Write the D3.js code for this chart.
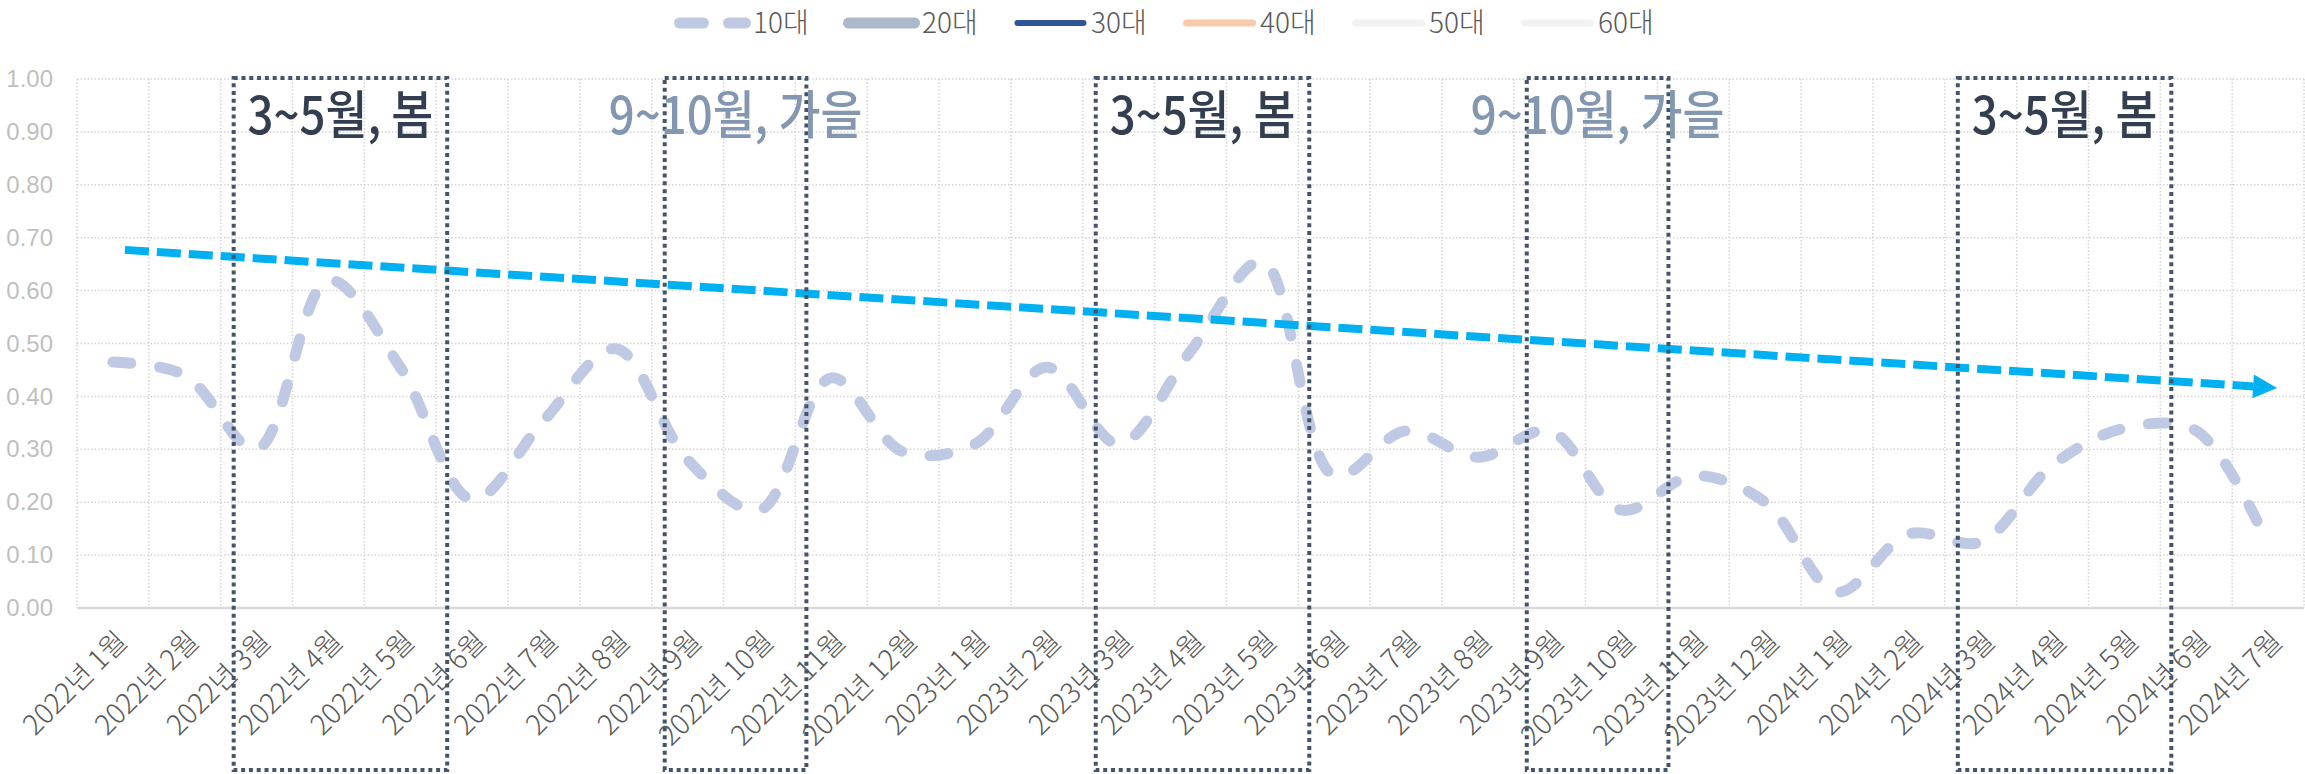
<!DOCTYPE html>
<html>
<head>
<meta charset="utf-8">
<script src="https://cdn.jsdelivr.net/npm/d3@7"></script>
<style>
    body { margin: 0; background: #fff; }
    svg { display: block; font-family: "Noto Sans CJK KR", "Noto Sans", sans-serif; }
</style>
</head>
<body>
<div id="chart"></div>
<script>
// data
var months = ["2022년 1월", "2022년 2월", "2022년 3월", "2022년 4월", "2022년 5월", "2022년 6월",
    "2022년 7월", "2022년 8월", "2022년 9월", "2022년 10월", "2022년 11월", "2022년 12월",
    "2023년 1월", "2023년 2월", "2023년 3월", "2023년 4월", "2023년 5월", "2023년 6월",
    "2023년 7월", "2023년 8월", "2023년 9월", "2023년 10월", "2023년 11월", "2023년 12월",
    "2024년 1월", "2024년 2월", "2024년 3월", "2024년 4월", "2024년 5월", "2024년 6월", "2024년 7월"];

var teens = [0.465, 0.44, 0.30, 0.62, 0.455, 0.205, 0.355, 0.49, 0.28, 0.185, 0.435, 0.295,
    0.31, 0.455, 0.31, 0.485, 0.655, 0.25, 0.335, 0.285, 0.335, 0.185, 0.25, 0.20,
    0.03, 0.14, 0.125, 0.27, 0.34, 0.335, 0.12];

var seriesNames = ["10대", "20대", "30대", "40대", "50대", "60대"];
var seriesColors = ["#c0c9e4", "#adb9ca", "#2f5597", "#f8cbad", "#f2f2f2", "#f2f2f2"];
var seriesWidths = [11, 11, 6, 7, 7, 7];

var yTicks = [0, 0.1, 0.2, 0.3, 0.4, 0.5, 0.6, 0.7, 0.8, 0.9, 1.0];

// trend arrow
var trendMonths = ["2022년 1월", "2024년 7월"];
var trendValues = [0.677, 0.416];

// season boxes
var seasonFrom = ["2022년 3월", "2022년 9월", "2023년 3월", "2023년 9월", "2024년 3월"];
var seasonTo = ["2022년 5월", "2022년 10월", "2023년 5월", "2023년 10월", "2024년 5월"];
var seasonLabels = ["3~5월, 봄", "9~10월, 가을", "3~5월, 봄", "9~10월, 가을", "3~5월, 봄"];
var seasonKinds = ["spring", "autumn", "spring", "autumn", "spring"];

chart();

function chart() {
    var width = 2305
    var height = 774

    var svg = d3.select("#chart")
        .append("svg")
        .attr("width", width)
        .attr("height", height);

    var left = 77, right = 2304, top = 79, bottom = 608;

    var x = d3.scaleBand().domain(months).range([left, right]).padding(0);
    var bw = x.bandwidth();
    var y = d3.scaleLinear().domain([0, 1]).range([bottom, top]);

    //gridlines
    var grid = svg.append("g");
    grid.selectAll(".hg")
        .data(yTicks.filter(function(d) { return d > 0; }))
        .enter()
        .append("line")
        .attr("x1", left).attr("x2", right)
        .attr("y1", function(d) { return y(d); })
        .attr("y2", function(d) { return y(d); })
        .attr("stroke", "#d4d4d4")
        .attr("stroke-width", 1.5)
        .attr("stroke-dasharray", "1.5,2");

    grid.selectAll(".vg")
        .data(months.concat(["end"]))
        .enter()
        .append("line")
        .attr("x1", function(d) { return d == "end" ? right : x(d); })
        .attr("x2", function(d) { return d == "end" ? right : x(d); })
        .attr("y1", y(1)).attr("y2", y(0))
        .attr("stroke", "#d4d4d4")
        .attr("stroke-width", 1.5)
        .attr("stroke-dasharray", "1.5,2");

    svg.append("line")
        .attr("x1", left).attr("x2", right)
        .attr("y1", y(0)).attr("y2", y(0))
        .attr("stroke", "#d9d9d9")
        .attr("stroke-width", 2.5);

    //y axis labels
    var yAxis = svg.append("g")
        .attr("transform", "translate(" + left + ",0)")
        .call(d3.axisLeft(y).tickValues(yTicks).tickFormat(d3.format(".2f")).tickSize(0).tickPadding(24));
    yAxis.select(".domain").remove();
    yAxis.selectAll("text")
        .attr("fill", "#bfbfbf")
        .style("font-size", "24px")
        .style("font-weight", 300);

    //x axis labels, rotated
    svg.append("g")
        .selectAll("text")
        .data(months)
        .enter()
        .append("text")
        .attr("transform", function(d) {
            return "translate(" + (x(d) + bw / 2 + 9) + "," + 636 + ") rotate(-45)";
        })
        .attr("text-anchor", "end")
        .attr("dy", "0.35em")
        .attr("fill", "#595959")
        .style("font-size", "28px")
        .style("font-weight", 300)
        .text(function(d) { return d; });

    //the 10대 line
    var line = d3.line()
        .x(function(d, i) { return x(months[i]) + bw / 2; })
        .y(function(d) { return y(d); })
        .curve(d3.curveCatmullRom.alpha(0.5));

    svg.append("path")
        .datum(teens)
        .attr("d", line)
        .attr("fill", "none")
        .attr("stroke", seriesColors[0])
        .attr("stroke-width", 11)
        .attr("stroke-linecap", "round")
        .attr("stroke-dasharray", "18,29");

    //trend arrow
    var x0 = x(trendMonths[0]) + bw / 2 + 12, y0 = y(trendValues[0]);
    var x1 = x(trendMonths[1]) + bw / 2 + 9, y1 = y(trendValues[1]);
    var ang = Math.atan2(y1 - y0, x1 - x0);
    var headLen = 24, headHalf = 12;
    var bx = x1 - headLen * Math.cos(ang), by = y1 - headLen * Math.sin(ang);

    svg.append("line")
        .attr("x1", x0).attr("y1", y0)
        .attr("x2", bx).attr("y2", by)
        .attr("stroke", "#00b0f0")
        .attr("stroke-width", 8)
        .attr("stroke-dasharray", "24,8");

    svg.append("polygon")
        .attr("points", [
            [x1, y1],
            [bx - headHalf * Math.sin(ang), by + headHalf * Math.cos(ang)],
            [bx + headHalf * Math.sin(ang), by - headHalf * Math.cos(ang)]
        ].map(function(p) { return p.join(","); }).join(" "))
        .attr("fill", "#00b0f0");

    //season boxes
    var seasons = seasonFrom.map(function(f, i) {
        return { from: f, to: seasonTo[i], label: seasonLabels[i], kind: seasonKinds[i] };
    });

    var boxX = function(d) { return x(d.from) + 13; };
    var boxW = function(d) { return x(d.to) + bw - x(d.from) - 2; };

    var boxes = svg.append("g")
        .selectAll("g")
        .data(seasons)
        .enter()
        .append("g");

    boxes.append("rect")
        .attr("x", boxX)
        .attr("width", boxW)
        .attr("y", 78)
        .attr("height", 692)
        .attr("fill", "none")
        .attr("stroke", "#44546a")
        .attr("stroke-width", 4)
        .attr("stroke-dasharray", "4,3.8");

    boxes.append("text")
        .attr("transform", function(d) {
            return "translate(" + (boxX(d) + boxW(d) / 2) + ",134) scale(0.95,1.08)";
        })
        .attr("text-anchor", "middle")
        .attr("fill", function(d) { return d.kind == "spring" ? "#333f50" : "#8497b0"; })
        .style("font-size", "48px")
        .style("font-weight", 500)
        .text(function(d) { return d.label; });

    //legend
    var legend = svg.append("g")
        .selectAll("g")
        .data(seriesNames)
        .enter()
        .append("g")
        .attr("transform", function(d, i) { return "translate(" + (674 + i * 169) + ",23)"; });

    legend.append("line")
        .attr("x1", 5.5).attr("x2", 71.5)
        .attr("y1", 0).attr("y2", 0)
        .attr("stroke", function(d, i) { return seriesColors[i]; })
        .attr("stroke-width", function(d, i) { return seriesWidths[i]; })
        .attr("stroke-linecap", "round")
        .attr("stroke-dasharray", function(d, i) { return i == 0 ? "24,25" : null; });

    legend.append("text")
        .attr("x", 79)
        .attr("y", 0)
        .attr("dy", "0.35em")
        .attr("fill", "#595959")
        .style("font-size", "28px")
        .style("font-weight", 300)
        .text(function(d) { return d; });
}
</script>
</body>
</html>
